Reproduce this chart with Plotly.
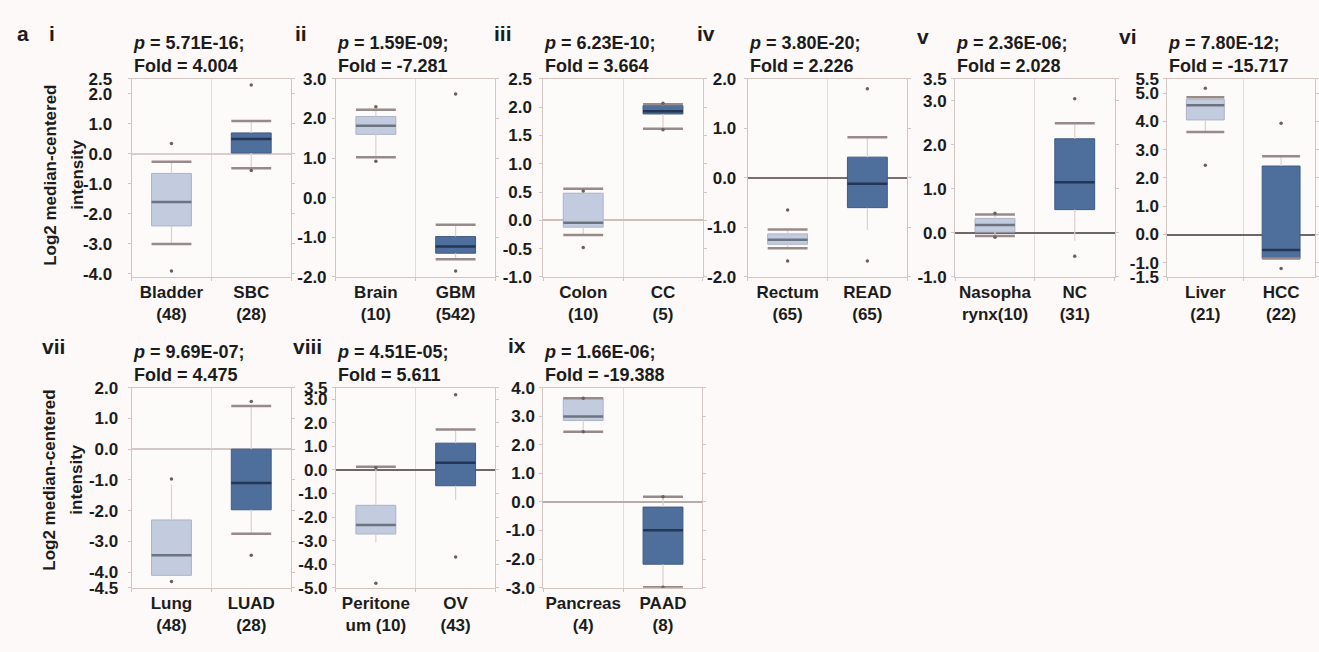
import plotly.graph_objects as go

# ---------------------------------------------------------------- data
PANELS = ["i", "ii", "iii", "iv", "v", "vi", "vii", "viii", "ix"]
P_VALUES = ["5.71E-16", "1.59E-09", "6.23E-10", "3.80E-20", "2.36E-06",
            "7.80E-12", "9.69E-07", "4.51E-05", "1.66E-06"]
FOLDS = ["4.004", "-7.281", "3.664", "2.226", "2.028",
         "-15.717", "4.475", "5.611", "-19.388"]
NORMAL_NAMES = ["Bladder<br>(48)", "Brain<br>(10)", "Colon<br>(10)", "Rectum<br>(65)",
                "Nasopha<br>rynx(10)", "Liver<br>(21)", "Lung<br>(48)",
                "Peritone<br>um (10)", "Pancreas<br>(4)"]
TUMOR_NAMES = ["SBC<br>(28)", "GBM<br>(542)", "CC<br>(5)", "READ<br>(65)", "NC<br>(31)",
               "HCC<br>(22)", "LUAD<br>(28)", "OV<br>(43)", "PAAD<br>(8)"]

# normal tissue: min, lower whisker, Q1, median, Q3, upper whisker, max
NORMAL_MIN = [-3.9, 0.92, -0.48, -1.68, -0.10, 2.45, -4.30, -4.81, 2.46]
NORMAL_LO = [-3.0, 1.02, -0.26, -1.42, -0.07, 3.62, -4.10, -3.07, 2.46]
NORMAL_Q1 = [-2.4, 1.60, -0.12, -1.34, 0.02, 4.05, -4.10, -2.72, 2.85]
NORMAL_MED = [-1.6, 1.82, -0.04, -1.25, 0.18, 4.57, -3.45, -2.34, 2.99]
NORMAL_Q3 = [-0.65, 2.05, 0.48, -1.13, 0.33, 4.78, -2.30, -1.50, 3.63]
NORMAL_HI = [-0.26, 2.22, 0.56, -1.04, 0.42, 4.85, -1.15, 0.14, 3.63]
NORMAL_MAX = [0.35, 2.30, 0.52, -0.65, 0.45, 5.17, -0.97, 0.10, 3.63]

# tumour tissue
TUMOR_MIN = [-0.55, -1.85, 1.60, -1.68, -0.53, -1.20, -3.45, -3.70, -2.99]
TUMOR_LO = [-0.48, -1.55, 1.62, -1.05, -0.18, -0.85, -2.75, -1.26, -2.99]
TUMOR_Q1 = [0.03, -1.40, 1.88, -0.60, 0.53, -0.85, -1.97, -0.67, -2.18]
TUMOR_MED = [0.50, -1.23, 1.93, -0.12, 1.15, -0.55, -1.10, 0.31, -0.99]
TUMOR_Q3 = [0.70, -0.98, 2.03, 0.42, 2.14, 2.42, 0.00, 1.14, -0.18]
TUMOR_HI = [1.10, -0.68, 2.05, 0.82, 2.49, 2.77, 1.40, 1.72, 0.18]
TUMOR_MAX = [2.30, 2.62, 2.07, 1.80, 3.05, 3.93, 1.55, 3.20, 0.18]

Y_MIN = [-4.1, -2.0, -1.0, -2.0, -1.0, -1.5, -4.5, -5.0, -3.0]
Y_MAX = [2.5, 3.0, 2.5, 2.0, 3.5, 5.5, 2.0, 3.5, 4.0]
Y_TICKS = [
    [2.5, 2, 1, 0, -1, -2, -3, -4],
    [3, 2, 1, 0, -1, -2],
    [2.5, 2, 1.5, 1, 0.5, 0, -0.5, -1],
    [2, 1, 0, -1, -2],
    [3.5, 3, 2, 1, 0, -1],
    [5.5, 5, 4, 3, 2, 1, 0, -1, -1.5],
    [2, 1, 0, -1, -2, -3, -4, -4.5],
    [3.5, 3, 2, 1, 0, -1, -2, -3, -4, -5],
    [4, 3, 2, 1, 0, -1, -2, -3],
]

# ---------------------------------------------------------------- layout
W, H = 1319, 652
PLOT_LEFT = [132, 337, 545, 750, 958, 1171, 132, 337, 545]
PLOT_RIGHT = [292, 497, 705, 910, 1118, 1319, 292, 497, 704]
HALF_WIDTH = [80, 80, 80, 80, 80, 76, 80, 80, 80]
ROW_TOP = [72, 390]
ROW_BOTTOM = [276, 596]
LABEL_POS = [(52, 25), (302, 25), (505, 25), (708, 25), (926, 28), (1131, 28),
             (54, 348), (308, 348), (519, 347)]
TICK_STANDOFF = [12, 2, 4, 4, 1, 1, 6, 1, 1]
ZERO_COLORS = ["#d9cecb", None, "#cbbfbc", "#7a6e6d", "#6f6666", "#6f6666",
               "#d3c8c5", "#6f6666", "#b8acaa"]
NO_CAP = {(3, 1, "lo"), (4, 1, "lo"), (6, 0, "hi"), (6, 0, "lo"),
          (7, 0, "lo"), (7, 1, "lo")}

FONT = "Liberation Sans, Arial, sans-serif"
TEXT = "#1c1c1c"
BG = "#fcf9f8"
LIGHT_FILL, LIGHT_EDGE, LIGHT_MED = "#c3ccdf", "#aab3c7", "#6e7380"
DARK_FILL, DARK_EDGE, DARK_MED = "#4e6f9c", "#3f5b85", "#233653"
CAP, STEM, DOT = "#978a88", "#dccfcc", "#6b6060"
AXIS, DIVIDER = "#d2c6c3", "#e4dbd8"
BOX_W = 0.5


def px_x(v):
    return v / W


def px_y(v):
    return 1 - v / H


fig = go.Figure()
annotations = []
layout = {}

for k, name in enumerate(PANELS):
    row = 0 if k < 6 else 1
    sx = "" if k == 0 else str(k + 1)
    xref, yref = "x" + sx, "y" + sx
    span = (PLOT_RIGHT[k] - PLOT_LEFT[k]) / HALF_WIDTH[k]

    groups = [
        (0, NORMAL_MIN[k], NORMAL_LO[k], NORMAL_Q1[k], NORMAL_MED[k], NORMAL_Q3[k],
         NORMAL_HI[k], NORMAL_MAX[k], LIGHT_FILL, LIGHT_EDGE, LIGHT_MED),
        (1, TUMOR_MIN[k], TUMOR_LO[k], TUMOR_Q1[k], TUMOR_MED[k], TUMOR_Q3[k],
         TUMOR_HI[k], TUMOR_MAX[k], DARK_FILL, DARK_EDGE, DARK_MED),
    ]
    for g, mn, lo, q1, med, q3, hi, mx, fill, edge, medc in groups:
        # whisker stems
        fig.add_trace(go.Scatter(
            x=[g, g, None, g, g], y=[lo, q1, None, q3, hi], mode="lines",
            line=dict(color=STEM, width=1.2), xaxis=xref, yaxis=yref,
            hoverinfo="skip", showlegend=False))
        # interquartile box
        fig.add_trace(go.Box(
            x=[g], q1=[q1], median=[med], q3=[q3], lowerfence=[q1], upperfence=[q3],
            width=BOX_W, whiskerwidth=0, fillcolor=fill,
            line=dict(color=edge, width=1), boxpoints=False,
            xaxis=xref, yaxis=yref, showlegend=False))
        # median bar
        fig.add_trace(go.Scatter(
            x=[g - BOX_W / 2, g + BOX_W / 2], y=[med, med], mode="lines",
            line=dict(color=medc, width=2.5), xaxis=xref, yaxis=yref,
            hoverinfo="skip", showlegend=False))
        # whisker caps
        cx, cy = [], []
        for tag, val in (("lo", lo), ("hi", hi)):
            if (k, g, tag) in NO_CAP:
                continue
            cx += [g - BOX_W / 2, g + BOX_W / 2, None]
            cy += [val, val, None]
        if cx:
            fig.add_trace(go.Scatter(
                x=cx, y=cy, mode="lines", line=dict(color=CAP, width=2.5),
                xaxis=xref, yaxis=yref, hoverinfo="skip", showlegend=False))
        # extreme values
        fig.add_trace(go.Scatter(
            x=[g, g], y=[mn, mx], mode="markers",
            marker=dict(color=DOT, size=3.5), xaxis=xref, yaxis=yref,
            hoverinfo="skip", showlegend=False))

    xdom = [px_x(PLOT_LEFT[k]), min(1.0, px_x(PLOT_RIGHT[k]))]
    ydom = [px_y(ROW_BOTTOM[row]), px_y(ROW_TOP[row])]
    layout["xaxis" + sx] = dict(
        domain=xdom, anchor=yref, range=[-0.5, -0.5 + span],
        tickmode="array", tickvals=[0, 1],
        ticktext=[NORMAL_NAMES[k], TUMOR_NAMES[k]],
        tickfont=dict(family=FONT, size=17, color=TEXT, weight="bold"),
        ticks="", showgrid=False, zeroline=False,
        showline=True, linecolor=AXIS, linewidth=1, mirror=True,
        minor=dict(tick0=0.5, dtick=1, showgrid=True, gridcolor=DIVIDER,
                   gridwidth=1.2, ticks="outside", ticklen=3, tickcolor=AXIS),
        fixedrange=True)
    zc = ZERO_COLORS[k]
    layout["yaxis" + sx] = dict(
        domain=ydom, anchor=xref, range=[Y_MIN[k], Y_MAX[k]],
        tickmode="array", tickvals=Y_TICKS[k],
        ticktext=[f"{v:.1f}" for v in Y_TICKS[k]],
        tickfont=dict(family=FONT, size=17, color=TEXT, weight="bold"),
        ticks="outside", ticklen=3, tickcolor=AXIS, ticklabelstandoff=TICK_STANDOFF[k],
        showgrid=False, showline=True, linecolor=AXIS, linewidth=1, mirror="ticks",
        zeroline=zc is not None, zerolinecolor=zc or AXIS, zerolinewidth=1.6,
        layer="above traces", fixedrange=True)

    # panel numeral
    lx, ly = LABEL_POS[k]
    annotations.append(dict(
        xref="paper", yref="paper", x=px_x(lx), y=px_y(ly), text=f"<b>{name}</b>",
        showarrow=False, xanchor="center", yanchor="middle",
        font=dict(family=FONT, size=21, color=TEXT)))
    # statistics header
    annotations.append(dict(
        xref="paper", yref="paper", x=px_x(PLOT_LEFT[k] - 1),
        y=px_y(ROW_TOP[row] - 1), xanchor="left", yanchor="bottom", align="left",
        text=f"<b><i>p</i> = {P_VALUES[k]};<br>Fold = {FOLDS[k]}</b>",
        showarrow=False, font=dict(family=FONT, size=18, color=TEXT)))

# figure letter
annotations.append(dict(
    xref="paper", yref="paper", x=px_x(23), y=px_y(25), text="<b>a</b>",
    showarrow=False, xanchor="center", yanchor="middle",
    font=dict(family=FONT, size=21, color=TEXT)))

# shared y-axis titles for both rows
for row, cy in ((0, 171), (1, 485)):
    for line, cx in (("Log2 median-centered", 50), ("intensity", 77)):
        annotations.append(dict(
            xref="paper", yref="paper", x=px_x(cx), y=px_y(cy), text=f"<b>{line}</b>",
            textangle=-90, showarrow=False, xanchor="center", yanchor="middle",
            font=dict(family=FONT, size=17, color=TEXT)))

fig.update_layout(
    width=W, height=H, margin=dict(l=0, r=0, t=0, b=0),
    paper_bgcolor=BG, plot_bgcolor="#fdfbfa",
    showlegend=False, annotations=annotations, **layout)

fig.write_html("out.html", config={"displayModeBar": False})
